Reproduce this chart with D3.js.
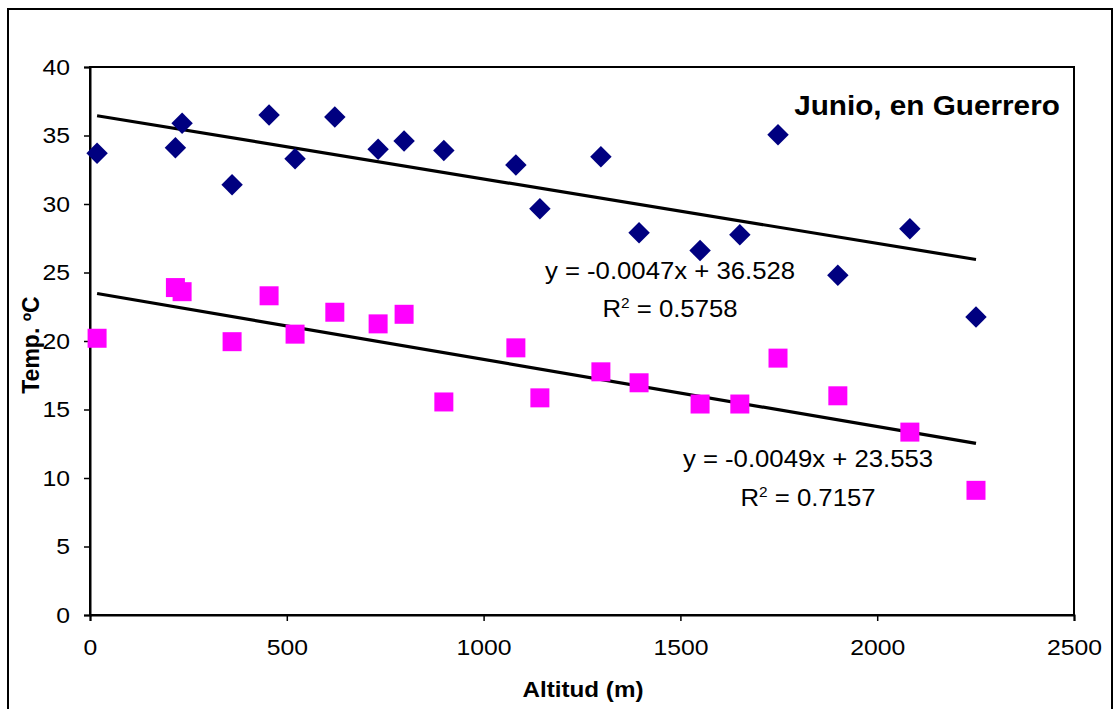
<!DOCTYPE html>
<html><head><meta charset="utf-8">
<script src="https://cdn.jsdelivr.net/npm/d3@7"></script>
<style>body{margin:0;background:#fff}svg{display:block}text{font-family:Arial,"Liberation Sans",sans-serif}</style>
</head><body><svg id="c" width="1119" height="709"></svg>
<script>
const altitud = [18, 217, 234, 361, 455, 521, 622, 732, 798, 899, 1082, 1143, 1298, 1395, 1550, 1651, 1748, 1900, 2083, 2251];
const tempMax = [33.7, 34.1, 35.9, 31.4, 36.5, 33.3, 36.35, 34.0, 34.6, 33.9, 32.85, 29.65, 33.45, 27.9, 26.6, 27.75, 35.05, 24.8, 28.2, 21.75];
const tempMin = [20.2, 23.9, 23.6, 19.95, 23.3, 20.5, 22.1, 21.25, 21.95, 15.55, 19.5, 15.85, 17.75, 16.95, 15.4, 15.4, 18.75, 16.0, 13.35, 9.1];
const slopes = [-0.0047, -0.0049];
const intercepts = [36.528, 23.553];
const r2 = ["0.5758", "0.7157"];
const xTicks = [0, 500, 1000, 1500, 2000, 2500];
const yTicks = [0, 5, 10, 15, 20, 25, 30, 35, 40];
const title = "Junio, en Guerrero";
const xTitle = "Altitud (m)";
const yTitle = "Temp. ºC";

const svg = d3.select("#c");
const x = d3.scaleLinear([0, 2500], [90, 1074]);
const y = d3.scaleLinear([0, 40], [615, 67]);
const SX = 1.1;

// outer border
svg.append("rect").attr("x", 8).attr("y", 9).attr("width", 1104).attr("height", 720)
  .attr("fill", "none").attr("stroke", "#000").attr("stroke-width", 2);

// plot frame
svg.append("rect").attr("x", x(0)).attr("y", y(40)).attr("width", x(2500) - x(0)).attr("height", y(0) - y(40))
  .attr("fill", "none").attr("stroke", "#000").attr("stroke-width", 2);

const xa = svg.append("g").attr("transform", `translate(0,${y(0)})`)
  .call(d3.axisBottom(x).tickValues(xTicks).tickSize(6).tickPadding(14).tickFormat(d3.format("d")));
const ya = svg.append("g").attr("transform", `translate(${x(0)},0)`)
  .call(d3.axisLeft(y).tickValues(yTicks).tickSize(6).tickPadding(14).tickFormat(d3.format("d")));
[xa, ya].forEach(g => {
  g.select(".domain").attr("stroke", "#000").attr("stroke-width", 2);
  g.selectAll(".tick line").attr("stroke", "#000").attr("stroke-width", 1.5);
  g.selectAll(".tick text").attr("fill", "#000").style("font-size", "22.5px")
    .style("font-family", "Arial, 'Liberation Sans', sans-serif");
});
xa.selectAll(".tick text").attr("dy", "0.71em").attr("y", 24).attr("x", 0)
  .attr("transform", `scale(${SX},1)`);
ya.selectAll(".tick text").attr("transform", `scale(${SX},1)`).attr("x", -20/SX);

// trend lines
const xmin = d3.min(altitud), xmax = d3.max(altitud);
slopes.forEach((m, i) => {
  svg.append("line").attr("x1", x(xmin)).attr("y1", y(intercepts[i] + m * xmin))
    .attr("x2", x(xmax)).attr("y2", y(intercepts[i] + m * xmax))
    .attr("stroke", "#000").attr("stroke-width", 3.2);
});

// points
const diamond = d3.symbol(d3.symbolSquare, 230)();
const square = d3.symbol(d3.symbolSquare, 361)();
svg.append("g").selectAll("path").data(altitud).join("path")
  .attr("d", diamond).attr("fill", "#000080")
  .attr("transform", (d, i) => `translate(${x(d)},${y(tempMax[i])}) rotate(45)`);
svg.append("g").selectAll("path").data(altitud).join("path")
  .attr("d", square).attr("fill", "#FF00FF")
  .attr("transform", (d, i) => `translate(${x(d)},${y(tempMin[i])})`);

function txt(cx, by, size, weight) {
  return svg.append("text").attr("transform", `translate(${cx},${by}) scale(${SX},1)`)
    .attr("text-anchor", "middle").style("font-size", size + "px")
    .style("font-weight", weight || "normal").attr("fill", "#000");
}
function fmt(v) { return v < 0 ? "-" + Math.abs(v) : String(v); }
const eqPos = [[670, 279, 317], [808, 467, 506]];
slopes.forEach((m, i) => {
  txt(eqPos[i][0], eqPos[i][1], 23.4).text(`y = ${fmt(m)}x + ${intercepts[i]}`);
  const t = txt(eqPos[i][0], eqPos[i][2], 23.4);
  t.append("tspan").text("R");
  t.append("tspan").attr("dy", -9).style("font-size", "14px").text("2");
  t.append("tspan").attr("dy", 9).text(` = ${r2[i]}`);
});

txt(927, 115, 27, "bold").text(title);
txt(583, 697, 22, "bold").text(xTitle);
svg.append("text").attr("transform", `translate(39,345) rotate(-90)`).attr("text-anchor", "middle")
  .style("font-size", "23px").style("font-weight", "bold").text(yTitle);
</script></body></html>
